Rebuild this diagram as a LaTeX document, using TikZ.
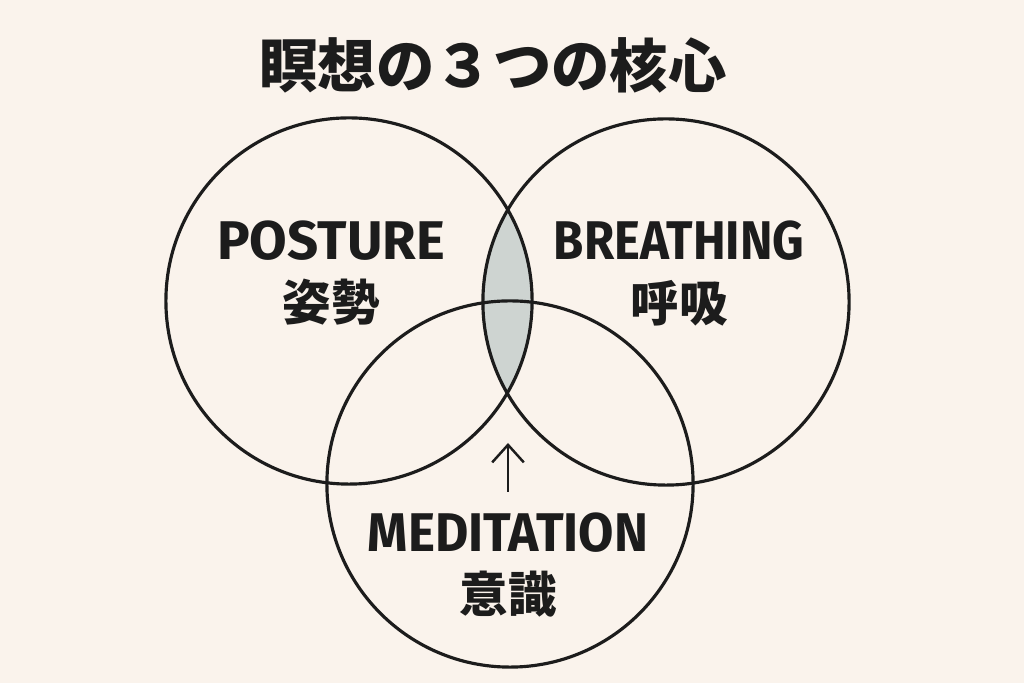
\documentclass[tikz,border=0pt]{standalone}
\usepackage{fontspec}
\setmainfont{Fira Sans}
\newfontfamily\jpfont{Noto Sans CJK JP}
\usetikzlibrary{arrows.meta}
\definecolor{paper}{RGB}{250,243,236}
\definecolor{ink}{RGB}{28,28,28}
\definecolor{lensgray}{RGB}{206,212,209}
\begin{document}
\begin{tikzpicture}[x=0.01cm,y=-0.01cm]
	\tikzstyle{ring}=[circle,draw=ink,line width=0.9pt,minimum size=3.66cm,inner sep=0pt]
	\tikzstyle{eng}=[text=ink,inner sep=0pt,font=\bfseries\fontsize{15.5}{16}\selectfont]
	\tikzstyle{kanji}=[text=ink,inner sep=0pt,font=\jpfont\bfseries\fontsize{13.8}{14}\selectfont]
	\tikzstyle{edge}=[draw=ink,line width=0.7pt]
	% paper and frame
	\fill[paper] (0,0) rectangle (1024,683);
	\coordinate (pc) at (349,301);
	\coordinate (bc) at (666,302);
	\coordinate (mc) at (510,484);
	% shared lens
	\begin{scope}
		\clip (pc) circle (1.83cm);
		\fill[lensgray] (bc) circle (1.83cm);
	\end{scope}
	\begin{scope}
		\node [ring] (posture) at (pc) {};
		\node [ring] (breathing) at (bc) {};
		\node [ring] (meditation) at (mc) {};

		\node [text=ink,font=\jpfont\bfseries\fontsize{16.6}{17}\selectfont] (title) at (493,65) {瞑想の３つの核心};

		\node [eng] (postureEn) at (331,241) {POSTURE};
		\node [kanji] (postureJa) at (331,302) {姿勢};
		\node [eng] (breathingEn) at (679,241) {\scalebox{0.9}[1]{BREATHING}};
		\node [kanji] (breathingJa) at (679,303) {呼吸};
		\node [eng] (meditationEn) at (508,533) {\scalebox{0.94}[1]{MEDITATION}};
		\node [kanji] (meditationJa) at (508,594) {意識};

		\coordinate (tail) at (508,492);
		\coordinate (tip) at (508,443);
		\path (tail) edge[edge,-{Straight Barb[length=5pt,width=9pt]}] (tip);
	\end{scope}
\end{tikzpicture}
\end{document}
